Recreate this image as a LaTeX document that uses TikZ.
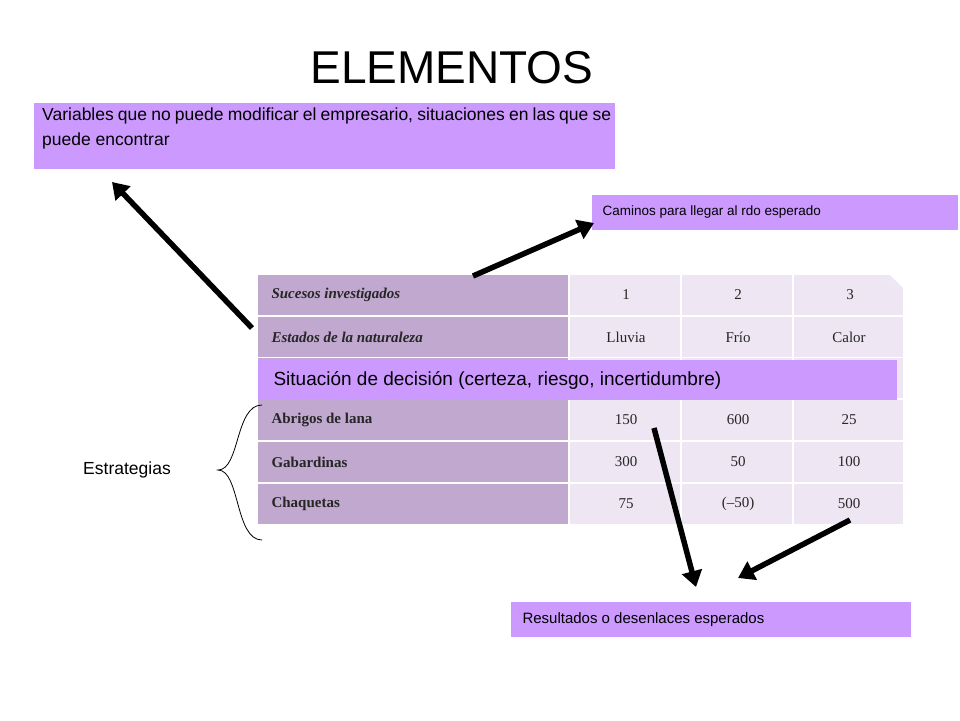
\documentclass[tikz,border=0pt]{standalone}
\usepackage{fontspec}
\setmainfont{Liberation Sans}
\newfontfamily\tabfont{Liberation Serif}
\usetikzlibrary{arrows.meta,decorations.pathreplacing}
\definecolor{lila}{HTML}{CC99FF}
\definecolor{hdr}{HTML}{C0A8CF}
\definecolor{cell}{HTML}{EEE7F3}
\begin{document}
\begin{tikzpicture}[x=1pt,y=-1pt,
  lbox/.style={fill=lila,inner sep=0pt,anchor=north west},
  thk/.style={line width=5.5pt,-{Triangle[length=16pt,width=20pt]}},
  hc/.style={fill=hdr,draw=none},
  cc/.style={fill=cell,draw=none},
  ht/.style={font=\tabfont\bfseries\fontsize{15}{17}\selectfont,anchor=west,text=black!85},
  ct/.style={font=\tabfont\fontsize{15}{17}\selectfont,text=black!85}]
\useasboundingbox (0,0) rectangle (960,720);
\fill[white] (0,0) rectangle (960,720);
\node[font=\fontsize{46}{50}\selectfont] (title) at (452,68) {ELEMENTOS};
% table
\foreach \y/\h in {275/40,317/40,358/40,400/40,442/40,484/40}{
  \fill[hdr] (258,\y) rectangle (568,\y+\h);
  \fill[cell] (570,\y) rectangle (680,\y+\h);
  \fill[cell] (682,\y) rectangle (792,\y+\h);
  \fill[cell] (794,\y) rectangle (903,\y+\h);
}
\fill[white] (890,275) -- (903,275) -- (903,288) -- cycle;
\node[ht] (r1) at (268,295) {\itshape Sucesos investigados};
\node[ht] (r2) at (268,337) {\itshape Estados de la naturaleza};
\node[ht] (r4) at (268,420) {Abrigos de lana};
\node[ht] (r5) at (268,462) {Gabardinas};
\node[ht] (r6) at (268,504) {Chaquetas};
\foreach \t [count=\i] in {1,2,3}{\node[ct] (a\i) at (514+\i*112,295) {\t};}
\node[ct] (b1) at (626,337) {Lluvia};
\node[ct] (b2) at (738,337) {Frío};
\node[ct] (b3) at (849,337) {Calor};
\node[ct] (c1) at (626,420) {150};
\node[ct] (c2) at (738,420) {600};
\node[ct] (c3) at (849,420) {25};
\node[ct] (d1) at (626,462) {300};
\node[ct] (d2) at (738,462) {50};
\node[ct] (d3) at (849,462) {100};
\node[ct] (e1) at (626,504) {75};
\node[ct] (e2) at (738,504) {(–50)};
\node[ct] (e3) at (849,504) {500};
% boxes
\fill[lila] (258,360) rectangle (897,400);
\node[anchor=west,font=\fontsize{19}{22}\selectfont] (sit) at (270,380) {Situación de decisión (certeza, riesgo, incertidumbre)};
\fill[lila] (34,103) rectangle (615,169);
\node[anchor=north west,text width=569pt,align=justify,inner sep=0pt,font=\fontsize{17.5}{25}\selectfont] (var) at (42,108) {Variables que no puede modificar el empresario, situaciones en las que se puede encontrar};
\fill[lila] (592,195) rectangle (958,230);
\node[anchor=west,font=\fontsize{13.5}{16}\selectfont] (cam) at (599,212) {Caminos para llegar al rdo esperado};
\fill[lila] (511,602) rectangle (911,637);
\node[anchor=west,font=\fontsize{15}{18}\selectfont] (res) at (519,620) {Resultados o desenlaces esperados};
\node[font=\fontsize{17.5}{20}\selectfont] (est) at (127,470) {Estrategias};
\draw[line width=0.8pt] (262,405) .. controls (235,405) and (240,470) .. (218,470) .. controls (240,470) and (235,540) .. (262,540);
% arrows
\coordinate (p1) at (252,328); \coordinate (q1) at (112,182);
\coordinate (p2) at (473,276); \coordinate (q2) at (594,223);
\coordinate (p3) at (654,428); \coordinate (q3) at (696,587);
\coordinate (p4) at (850,520); \coordinate (q4) at (738,578);
\draw[thk] (p1) -- (q1);
\draw[thk] (p2) -- (q2);
\draw[thk] (p3) -- (q3);
\draw[thk] (p4) -- (q4);
\end{tikzpicture}
\end{document}
